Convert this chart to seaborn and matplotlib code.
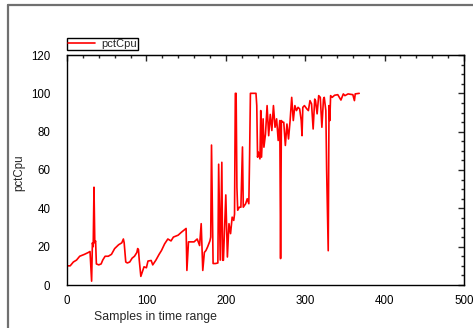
import matplotlib
matplotlib.use("Agg")
import matplotlib.pyplot as plt
from matplotlib.lines import Line2D
from matplotlib.ticker import MultipleLocator
import matplotlib.transforms as mtransforms
import seaborn as sns
import pandas as pd

# ---- data ----
samples = [0, 4, 8, 12, 16, 22, 27, 29, 31, 32, 33, 34, 35, 36, 37, 40, 43, 45, 48, 52,
           56, 60, 65, 69, 71, 72, 74, 76, 79, 82, 85, 88, 89, 90, 91, 93, 97, 100, 102, 106,
           108, 112, 116, 119, 123, 127, 131, 134, 137, 140, 144, 147, 150, 151, 153, 157, 160, 164, 167, 169,
           171, 173, 175, 177, 179, 180, 181, 182, 184, 187, 190, 191, 193, 195, 196, 197, 200, 202, 204, 206,
           208, 210, 211, 212, 213, 214, 215, 217, 219, 221, 222, 225, 227, 229, 230, 231, 235, 238, 239, 240,
           241, 243, 244, 245, 247, 248, 250, 252, 254, 256, 258, 260, 262, 264, 266, 268, 269, 270, 271, 273,
           275, 277, 279, 281, 283, 285, 287, 289, 291, 293, 295, 296, 297, 299, 302, 304, 306, 308, 310, 312,
           313, 315, 317, 319, 321, 323, 324, 326, 327, 329, 330, 331, 332, 334, 337, 341, 345, 348, 350, 354,
           360, 362, 363, 368]
pct_cpu = [10, 10, 12, 13, 15, 16, 17, 17.5, 2, 22, 20, 51, 22, 23, 11, 10.5, 11, 13, 15, 15,
           16, 19, 21, 22, 24, 22, 12, 11.5, 12, 14, 15, 17, 19, 18.5, 13, 4.5, 9.5, 9, 12.5, 12.8,
           10.5, 13, 16, 18, 21.5, 24, 23, 25, 25.5, 26, 27.5, 28.5, 29.5, 7.6, 22.5, 22.5, 22.5, 24, 20.6, 32,
           7.6, 17, 18, 19.8, 22, 23, 25, 73, 11.2, 11.2, 11.5, 63, 13, 64, 12.9, 12.9, 47, 14.6, 32, 26.8,
           35.4, 33.7, 37, 100, 100, 51, 39, 40.6, 40.6, 72, 40.6, 42.4, 45, 42.4, 68, 100, 100, 100, 93.6, 66.7,
           69.3, 65.8, 91, 66.7, 86.7, 71.9, 78.8, 93.6, 77.9, 89, 80.6, 93.6, 82.3, 86.7, 75.4, 85.8, 13.8, 85.8, 85, 84.9,
           72.8, 84, 76.2, 85.8, 97.9, 85.8, 93.6, 91, 92.7, 91.9, 85.8, 77.9, 92.7, 93.6, 91.9, 91, 96.2, 94.5, 81.4, 97,
           96.2, 89.3, 98.8, 97.9, 82.3, 97, 97.9, 91, 60, 17.9, 93.6, 85.8, 98.8, 97.9, 99, 99.3, 96.5, 99.7, 98.8, 99.7,
           99.3, 96.2, 99.7, 100]
series_name = "pctCpu"
x_label = "Samples in time range"
y_label = "pctCpu"

df = pd.DataFrame({"sample": samples, series_name: pct_cpu})

sns.set_style("white")
plt.rcParams["font.family"] = ["Liberation Sans", "DejaVu Sans"]

fig = plt.figure(figsize=(4.73, 3.28), dpi=100)
ax = fig.add_axes([67 / 473, 1 - 285 / 328, (464 - 67) / 473, (285 - 55) / 328])

sns.lineplot(data=df, x="sample", y=series_name, ax=ax, color="#ff0000",
             linewidth=1.2, label=series_name, estimator=None, sort=False)

ax.set_xlim(0, 500)
ax.set_ylim(0, 120)
ax.xaxis.set_major_locator(MultipleLocator(100))
ax.xaxis.set_minor_locator(MultipleLocator(20))
ax.yaxis.set_major_locator(MultipleLocator(20))
ax.yaxis.set_minor_locator(MultipleLocator(5))

for s in ax.spines.values():
    s.set_color("black")
    s.set_linewidth(1.0)

ax.tick_params(axis="both", which="major", direction="inout", length=8, width=1,
               color="black", labelsize=8.3, labelcolor="black")
ax.tick_params(axis="both", which="minor", direction="inout", length=4, width=1, color="black")
ax.tick_params(axis="x", which="major", pad=3)
ax.tick_params(axis="y", which="major", pad=8)

# inward mirrored ticks on top and right
top = ax.secondary_xaxis("top")
top.xaxis.set_major_locator(MultipleLocator(100))
top.xaxis.set_minor_locator(MultipleLocator(20))
top.tick_params(which="major", direction="in", length=4, width=1, labeltop=False)
top.tick_params(which="minor", direction="in", length=2, width=1)
right = ax.secondary_yaxis("right")
right.yaxis.set_major_locator(MultipleLocator(20))
right.yaxis.set_minor_locator(MultipleLocator(5))
right.tick_params(which="major", direction="in", length=4, width=1, labelright=False)
right.tick_params(which="minor", direction="in", length=2, width=1)

ax.set_xlabel(x_label, fontsize=8.8)
ax.xaxis.set_label_coords(0.224, -0.112)
ax.set_ylabel(y_label, fontsize=8.3)
ax.yaxis.set_label_coords(-0.105, 0.49)

leg = ax.legend(loc="lower left", bbox_to_anchor=(0.0, 1.02), frameon=True, fancybox=False,
                fontsize=8, handlelength=2.4, borderpad=0.1, handletextpad=0.6,
                borderaxespad=0.0, framealpha=1)
leg.get_frame().set_edgecolor("black")
leg.get_frame().set_linewidth(1.0)

# keep the last x tick label inside the figure
fig.canvas.draw()
last = ax.get_xticklabels()[-1]
last.set_transform(last.get_transform() + mtransforms.ScaledTranslation(-3 / 100, 0, fig.dpi_scale_trans))

# figure frame lines (top and left)
fig.add_artist(Line2D([8 / 473, 1], [1 - 5 / 328, 1 - 5 / 328], transform=fig.transFigure,
                      color="#707070", linewidth=1.6))
fig.add_artist(Line2D([8 / 473, 8 / 473], [0, 1 - 5 / 328], transform=fig.transFigure,
                      color="#707070", linewidth=1.6))

fig.savefig("out.png", dpi=100)
